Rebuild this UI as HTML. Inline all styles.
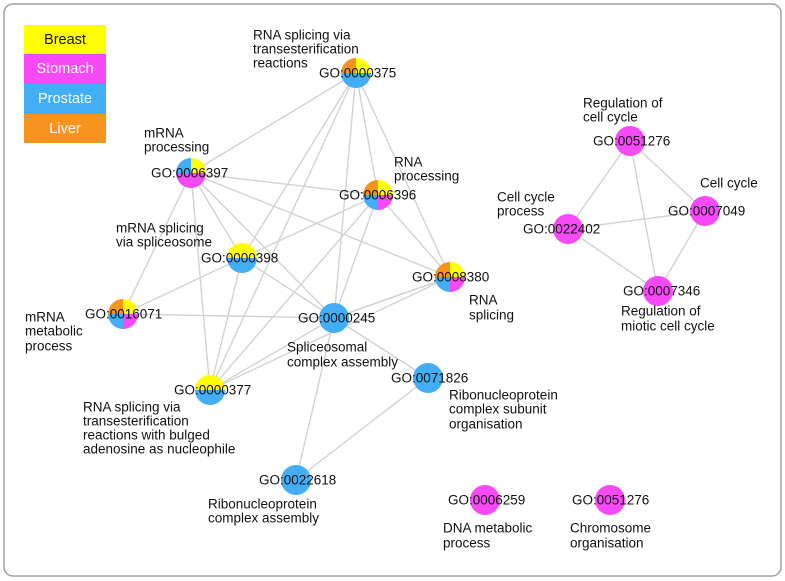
<!DOCTYPE html>
<html><head><meta charset="utf-8"><style>
html,body{margin:0;padding:0;background:#fff}
svg{display:block;font-family:"Liberation Sans",sans-serif}
.lbl{font-size:13.5px;fill:#111}
.leg{font-size:14.5px}
</style></head><body>
<svg id="net" width="785" height="581" viewBox="0 0 785 581">
<rect x="4" y="4" width="777" height="572" rx="9" fill="#fff" stroke="#a0a0a0" stroke-width="1.5"/>
<g id="edges"></g>
<g id="nodes"></g>
<g id="labels"></g>
<g>
<rect x="24" y="25" width="82" height="29" fill="#ffff00"/>
<rect x="24" y="54" width="82" height="30" fill="#f74af7"/>
<rect x="24" y="84" width="82" height="30" fill="#43aef5"/>
<rect x="24" y="114" width="82" height="29" fill="#f7941d"/>
<text class="leg" x="65" y="44" text-anchor="middle" fill="#111">Breast</text>
<text class="leg" x="65" y="73" text-anchor="middle" fill="#fff">Stomach</text>
<text class="leg" x="65" y="103" text-anchor="middle" fill="#fff">Prostate</text>
<text class="leg" x="65" y="133" text-anchor="middle" fill="#fff">Liver</text>
</g>
</svg>
<script>
const colors = {B:"#ffff00", S:"#f74af7", P:"#43aef5", L:"#f7941d"};
const nodeIds = ["0000375","0006397","0006396","0000398","0008380","0016071","0000245","0000377","0071826","0022618","0051276","0022402","0007049","0007346","0006259","0051276b"];
const nodeX = [356,191,378,242,450,123,334,210,428,296,630,568,705,658,485,610];
const nodeY = [73,173,195,258,277,314,318,390,378,480,141,229,211,291,500,500];
// quadrant tissues clockwise from 12 o'clock: TR, BR, BL, TL
const nodeSlices = [
 ["B","P","P","L"],["B","S","S","P"],["B","S","P","L"],["B","P","P","B"],
 ["B","S","P","L"],["B","S","P","L"],["P","P","P","P"],["B","P","P","B"],
 ["P","P","P","P"],["P","P","P","P"],["S","S","S","S"],["S","S","S","S"],
 ["S","S","S","S"],["S","S","S","S"],["S","S","S","S"],["S","S","S","S"]];
const edgeFrom = ["0000375","0000375","0000375","0000375","0000375","0000375","0006397","0006397","0006397","0006397","0006397","0006397","0006396","0006396","0006396","0006396","0000398","0000398","0000398","0016071","0000245","0000245","0000245","0000245","0008380","0008380","0071826","0051276","0051276","0051276","0022402","0022402","0007049"];
const edgeTo   = ["0006397","0000398","0000377","0000245","0006396","0008380","0006396","0016071","0000377","0000398","0000245","0008380","0000398","0000245","0000377","0008380","0016071","0000377","0000245","0000245","0000377","0008380","0071826","0022618","0000377","0000245","0022618","0022402","0007049","0007346","0007049","0007346","0007346"];
const labelText = [
 ["GO:0000375",319,73],["RNA splicing via",253,35],["transesterification",253,49],["reactions",253,63],
 ["GO:0006397",151,173],["mRNA",144,133],["processing",144,147],
 ["GO:0006396",339,195],["RNA",394,162],["processing",394,176],
 ["GO:0000398",201,258],["mRNA splicing",116,228],["via spliceosome",116,242],
 ["GO:0008380",412,277],["RNA",469,300],["splicing",469,315],
 ["GO:0016071",85,314],["mRNA",25,317],["metabolic",25,331],["process",25,346],
 ["GO:0000245",298,318],["Spliceosomal",287,347],["complex assembly",287,362],
 ["GO:0071826",391,378],["Ribonucleoprotein",449,395],["complex subunit",449,409],["organisation",449,424],
 ["GO:0000377",174,390],["RNA splicing via",83,407],["transesterification",83,421],["reactions with bulged",83,435],["adenosine as nucleophile",83,449],
 ["GO:0022618",259,480],["Ribonucleoprotein",208,504],["complex assembly",208,518],
 ["GO:0006259",448,500],["DNA metabolic",443,528],["process",443,543],
 ["GO:0051276",572,500],["Chromosome",570,528],["organisation",570,543],
 ["GO:0051276",593,141],["Regulation of",583,103],["cell cycle",583,117],
 ["GO:0007049",668,211],["Cell cycle",700,183],
 ["GO:0022402",523,229],["Cell cycle",497,197],["process",497,211],
 ["GO:0007346",623,291],["Regulation of",621,311],["miotic cell cycle",621,326]];

const NS="http://www.w3.org/2000/svg";
const R=15;
const gE=document.getElementById('edges'), gN=document.getElementById('nodes'), gL=document.getElementById('labels');
function idx(id){return nodeIds.indexOf(id);}
for(let i=0;i<edgeFrom.length;i++){
  const a=idx(edgeFrom[i]), b=idx(edgeTo[i]);
  const l=document.createElementNS(NS,'line');
  l.setAttribute('x1',nodeX[a]);l.setAttribute('y1',nodeY[a]);
  l.setAttribute('x2',nodeX[b]);l.setAttribute('y2',nodeY[b]);
  l.setAttribute('stroke','#d2d2d2');l.setAttribute('stroke-width','1.4');
  
  
  gE.appendChild(l);
}
for(let i=0;i<nodeIds.length;i++){
  const g=document.createElementNS(NS,'g');
  
  
  const cx=nodeX[i], cy=nodeY[i], s=nodeSlices[i];
  for(let q=0;q<4;q++){
    const a0=q*Math.PI/2-Math.PI/2, a1=a0+Math.PI/2;
    const p=document.createElementNS(NS,'path');
    const x0=cx+R*Math.cos(a0), y0=cy+R*Math.sin(a0), x1=cx+R*Math.cos(a1), y1=cy+R*Math.sin(a1);
    p.setAttribute('d',`M${cx},${cy}L${x0},${y0}A${R},${R} 0 0 1 ${x1},${y1}Z`);
    p.setAttribute('fill',colors[s[q]]);
    
    
    g.appendChild(p);
  }
  gN.appendChild(g);
}
for(const [t,x,y] of labelText){
  const e=document.createElementNS(NS,'text');
  e.setAttribute('x',x);e.setAttribute('y',y+4.5);
  e.setAttribute('class','lbl');
  e.textContent=t;
  
  
  gL.appendChild(e);
}
</script>
</body></html>
